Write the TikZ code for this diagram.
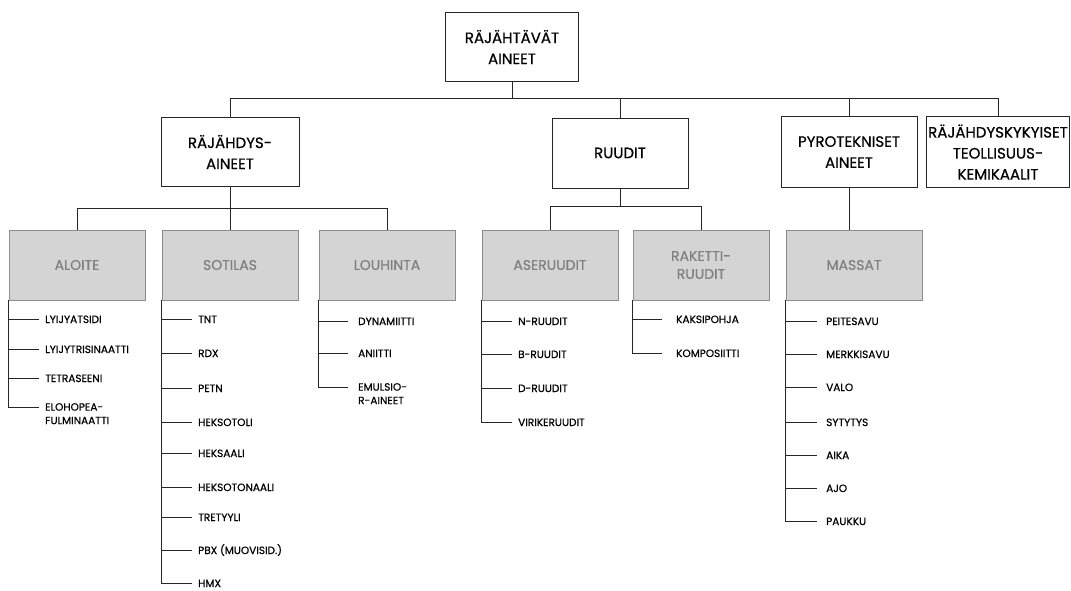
\documentclass[tikz,border=0pt]{standalone}
\usepackage{fontspec}
\setmainfont{Poppins}[FakeBold=0.6]
\newcommand{\boxfont}{\fontsize{15}{21}\selectfont}
\newcommand{\greyfont}{\fontsize{14}{18}\selectfont}
\newcommand{\leaffont}{\fontsize{10.5}{13.5}\selectfont}

\tikzset{
  link/.style={draw=black!85, line width=0.8pt},
  mainbox/.style={draw=black!85, line width=0.9pt, minimum width=136pt,
    minimum height=70pt, inner sep=2pt, align=center, font=\boxfont},
  subbox/.style={mainbox, draw=black!45, fill=black!17, text=black!50, font=\greyfont},
  leaf/.style={anchor=base west, inner xsep=6pt, inner ysep=0pt,
    align=left, font=\leaffont},
  leaftwo/.style={leaf, anchor=north west}
}

\begin{document}
\begin{tikzpicture}[x=1pt,y=-1pt]
  \useasboundingbox (0,0) rectangle (1071,590);

  \node[mainbox, minimum width=133pt, minimum height=69pt] (root) at (512,47) {RÄJÄHTÄVÄT\\AINEET};

  \node[mainbox, minimum width=138pt, minimum height=69pt] (rajahdys) at (230,152) {RÄJÄHDYS-\\AINEET};
  \node[mainbox] (ruudit) at (620,153) {RUUDIT};
  \node[mainbox, minimum height=71pt] (pyro) at (849,152) {PYROTEKNISET\\AINEET};
  \node[mainbox, minimum width=143pt, minimum height=71pt, inner xsep=0.5pt] (teoll) at (998,152) {RÄJÄHDYSKYKYISET\\TEOLLISUUS-\\KEMIKAALIT};

  \node[subbox] (aloite) at (77,265) {ALOITE};
  \node[subbox] (sotilas) at (230,265) {SOTILAS};
  \node[subbox] (louhinta) at (387,265) {LOUHINTA};
  \node[subbox] (aseruudit) at (550,265) {ASERUUDIT};
  \node[subbox] (raketti) at (701,265) {RAKETTI-\\RUUDIT};
  \node[subbox] (massat) at (854,265) {MASSAT};

  \coordinate (bus) at (0,98);
  \coordinate (rbus) at (0,208);
  \coordinate (ubus) at (0,206);

  \draw[link] (root.south) -- (root.south |- bus);
  \draw[link] (rajahdys.north) -- (rajahdys.north |- bus) -- (teoll.north |- bus) -- (teoll.north);
  \draw[link] (ruudit.north) -- (ruudit.north |- bus);
  \draw[link] (pyro.north) -- (pyro.north |- bus);

  \draw[link] (rajahdys.south) -- (rajahdys.south |- sotilas.north);
  \draw[link] (aloite.north) -- (aloite.north |- rbus) -- (louhinta.north |- rbus) -- (louhinta.north);
  \draw[link] (ruudit.south) -- (ruudit.south |- ubus);
  \draw[link] (aseruudit.north) -- (aseruudit.north |- ubus) -- (raketti.north |- ubus) -- (raketti.north);
  \draw[link] (pyro.south) -- (pyro.south |- massat.north);

  \node[leaf] (l11) at (39,323) {LYIJYATSIDI};
  \node[leaf] (l12) at (39,353) {LYIJYTRISINAATTI};
  \node[leaf] (l13) at (39,382) {TETRASEENI};
  \node[leaftwo] (l14) at (39,403) {ELOHOPEA-\\FULMINAATTI};
  \draw[link] (aloite.south west) |- ([yshift=4pt]l11.base west);
  \draw[link] (aloite.south west) |- ([yshift=4pt]l12.base west);
  \draw[link] (aloite.south west) |- ([yshift=4pt]l13.base west);
  \draw[link] (aloite.south west) |- ([yshift=-4pt]l14.north west);

  \node[leaf] (l21) at (192,323) {TNT};
  \node[leaf] (l22) at (192,357) {RDX};
  \node[leaf] (l23) at (192,392) {PETN};
  \node[leaf] (l24) at (192,426) {HEKSOTOLI};
  \node[leaf] (l25) at (192,457) {HEKSAALI};
  \node[leaf] (l26) at (192,491) {HEKSOTONAALI};
  \node[leaf] (l27) at (192,521) {TRETYYLI};
  \node[leaf] (l28) at (192,554) {PBX (MUOVISID.)};
  \node[leaf] (l29) at (192,587) {HMX};
  \draw[link] (sotilas.south west) |- ([yshift=4pt]l21.base west);
  \draw[link] (sotilas.south west) |- ([yshift=4pt]l22.base west);
  \draw[link] (sotilas.south west) |- ([yshift=4pt]l23.base west);
  \draw[link] (sotilas.south west) |- ([yshift=4pt]l24.base west);
  \draw[link] (sotilas.south west) |- ([yshift=4pt]l25.base west);
  \draw[link] (sotilas.south west) |- ([yshift=4pt]l26.base west);
  \draw[link] (sotilas.south west) |- ([yshift=4pt]l27.base west);
  \draw[link] (sotilas.south west) |- ([yshift=4pt]l28.base west);
  \draw[link] (sotilas.south west) |- ([yshift=4pt]l29.base west);

  \node[leaf, inner xsep=10pt] (l31) at (348,325) {DYNAMIITTI};
  \node[leaf, inner xsep=10pt] (l32) at (348,357) {ANIITTI};
  \node[leaftwo, inner xsep=10pt] (l33) at (348,383) {EMULSIO-\\R-AINEET};
  \draw[link] (louhinta.south west) |- ([yshift=4pt]l31.base west);
  \draw[link] (louhinta.south west) |- ([yshift=4pt]l32.base west);
  \draw[link] (louhinta.south west) |- ([yshift=-4pt]l33.north west);

  \node[leaf] (l41) at (512,325) {N-RUUDIT};
  \node[leaf] (l42) at (512,358) {B-RUUDIT};
  \node[leaf] (l43) at (512,392) {D-RUUDIT};
  \node[leaf] (l44) at (512,426) {VIRIKERUUDIT};
  \draw[link] (aseruudit.south west) |- ([yshift=4pt]l41.base west);
  \draw[link] (aseruudit.south west) |- ([yshift=4pt]l42.base west);
  \draw[link] (aseruudit.south west) |- ([yshift=4pt]l43.base west);
  \draw[link] (aseruudit.south west) |- ([yshift=4pt]l44.base west);

  \node[leaf, inner xsep=14pt] (l51) at (662,323) {KAKSIPOHJA};
  \node[leaf, inner xsep=14pt] (l52) at (662,357) {KOMPOSIITTI};
  \draw[link] (raketti.south west) |- ([yshift=4pt]l51.base west);
  \draw[link] (raketti.south west) |- ([yshift=4pt]l52.base west);

  \node[leaf, inner xsep=9pt] (l61) at (817,325) {PEITESAVU};
  \node[leaf, inner xsep=9pt] (l62) at (817,358) {MERKKISAVU};
  \node[leaf, inner xsep=9pt] (l63) at (817,391) {VALO};
  \node[leaf, inner xsep=9pt] (l64) at (817,426) {SYTYTYS};
  \node[leaf, inner xsep=9pt] (l65) at (817,459) {AIKA};
  \node[leaf, inner xsep=9pt] (l66) at (817,492) {AJO};
  \node[leaf, inner xsep=9pt] (l67) at (817,525) {PAUKKU};
  \draw[link] (massat.south west) |- ([yshift=4pt]l61.base west);
  \draw[link] (massat.south west) |- ([yshift=4pt]l62.base west);
  \draw[link] (massat.south west) |- ([yshift=4pt]l63.base west);
  \draw[link] (massat.south west) |- ([yshift=4pt]l64.base west);
  \draw[link] (massat.south west) |- ([yshift=4pt]l65.base west);
  \draw[link] (massat.south west) |- ([yshift=4pt]l66.base west);
  \draw[link] (massat.south west) |- ([yshift=4pt]l67.base west);
\end{tikzpicture}
\end{document}
